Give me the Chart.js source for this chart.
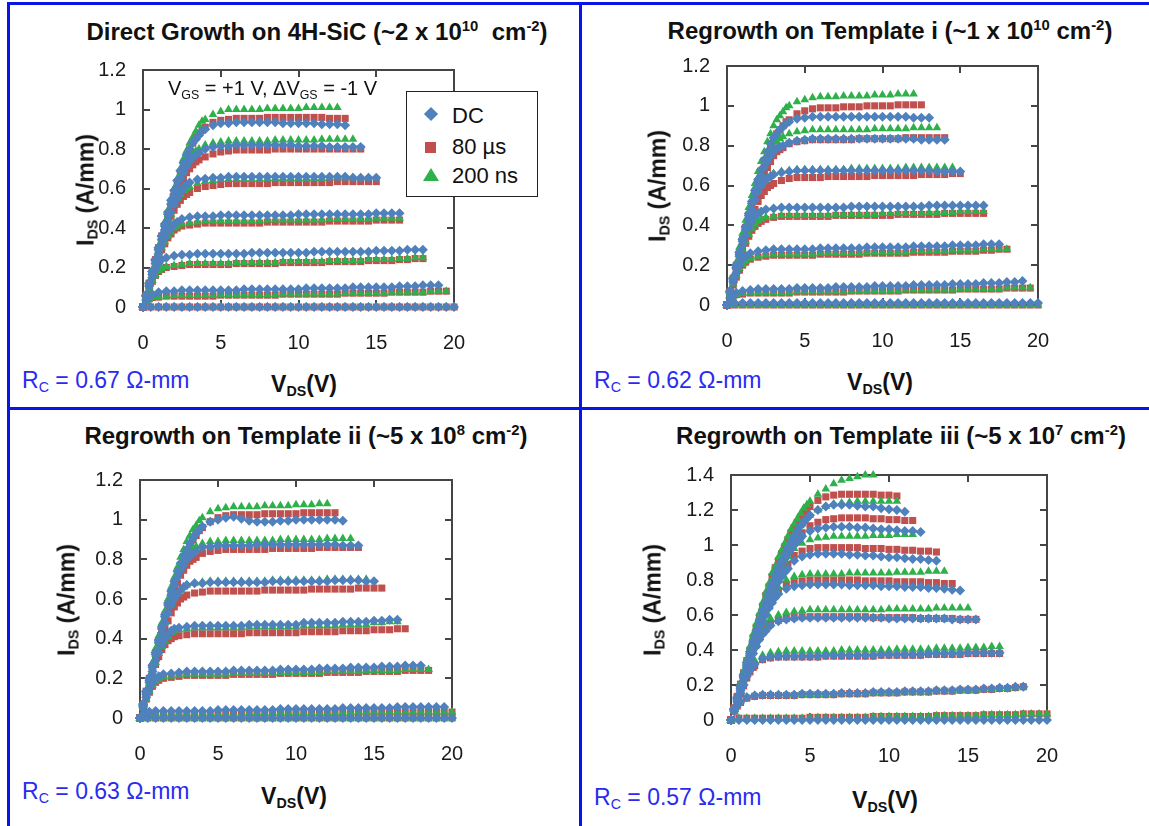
<!DOCTYPE html>
<html lang="en">
<head>
<meta charset="utf-8">
<title>GaN HEMT output characteristics</title>
<script src="https://cdn.jsdelivr.net/npm/chart.js@4.4.1/dist/chart.umd.min.js"></script>
<style>
  html, body { margin: 0; padding: 0; background: #fff; }
  #page { position: relative; width: 1149px; height: 826px; overflow: hidden;
          font-family: 'Liberation Sans', Arial, Helvetica, sans-serif; color: #111; }
  .rule { position: absolute; background: #0a14e6; }
  canvas { position: absolute; }
  .txt { position: absolute; white-space: nowrap; line-height: 1; }
  .title { font-weight: bold; font-size: 24px; transform: translate(-50%, -50%); }
  .xlab { font-weight: bold; font-size: 23px; transform: translate(-50%, -50%); }
  .ylab { font-weight: bold; font-size: 23px; transform: translate(-50%, -50%) rotate(-90deg); }
  .rc { font-size: 23px; color: #2b2bf0; transform: translateY(-50%); }
  .note { font-size: 20px; transform: translateY(-50%); }
  sub { font-size: 0.62em; vertical-align: -0.3em; line-height: 0; }
  sup { font-size: 0.62em; vertical-align: 0.6em; line-height: 0; }
  #legend { position: absolute; left: 406px; top: 91px; width: 132px; height: 106px;
            border: 1px solid #222; background: #fff; box-sizing: border-box; }
  #legend .item { position: absolute; left: 45px; font-size: 22px; line-height: 1; transform: translateY(-50%); }
  #legend .mk { position: absolute; }
  .diamond { width: 10px; height: 10px; background: #4f81bd; transform: rotate(45deg); }
  .square { width: 11px; height: 11px; background: #c0504d; }
  .triangle { width: 0; height: 0; border-left: 8px solid transparent; border-right: 8px solid transparent;
              border-bottom: 13px solid #2eb04a; }
</style>
</head>
<body>
<div id="page">
  <div class="rule" style="left:7px; top:2px; width:1142px; height:3px;"></div>
  <div class="rule" style="left:7px; top:2px; width:3px; height:824px;"></div>
  <div class="rule" style="left:579px; top:2px; width:3px; height:824px;"></div>
  <div class="rule" style="left:7px; top:407px; width:1142px; height:3px;"></div>

  <canvas id="direct"></canvas>
  <canvas id="tplI"></canvas>
  <canvas id="tplII"></canvas>
  <canvas id="tplIII"></canvas>

  <div class="txt title" style="left:317px; top:32px;">Direct Growth on 4H-SiC (~2 x 10<sup>10</sup>&nbsp; cm<sup>-2</sup>)</div>
  <div class="txt title" style="left:890px; top:31px;">Regrowth on Template i (~1 x 10<sup>10</sup> cm<sup>-2</sup>)</div>
  <div class="txt title" style="left:306px; top:436px;">Regrowth on Template ii (~5 x 10<sup>8</sup> cm<sup>-2</sup>)</div>
  <div class="txt title" style="left:901px; top:436px;">Regrowth on Template iii (~5 x 10<sup>7</sup> cm<sup>-2</sup>)</div>

  <div class="txt ylab" style="left:86px; top:190px;">I<sub>DS</sub> (A/mm)</div>
  <div class="txt ylab" style="left:658px; top:186px;">I<sub>DS</sub> (A/mm)</div>
  <div class="txt ylab" style="left:67px; top:600px;">I<sub>DS</sub> (A/mm)</div>
  <div class="txt ylab" style="left:653px; top:600px;">I<sub>DS</sub> (A/mm)</div>

  <div class="txt xlab" style="left:304px; top:384px;">V<sub>DS</sub>(V)</div>
  <div class="txt xlab" style="left:880px; top:382px;">V<sub>DS</sub>(V)</div>
  <div class="txt xlab" style="left:294px; top:796px;">V<sub>DS</sub>(V)</div>
  <div class="txt xlab" style="left:885px; top:800px;">V<sub>DS</sub>(V)</div>

  <div class="txt rc" style="left:22px; top:380px;">R<sub>C</sub> = 0.67 Ω-mm</div>
  <div class="txt rc" style="left:594px; top:380px;">R<sub>C</sub> = 0.62 Ω-mm</div>
  <div class="txt rc" style="left:22px; top:791px;">R<sub>C</sub> = 0.63 Ω-mm</div>
  <div class="txt rc" style="left:594px; top:797px;">R<sub>C</sub> = 0.57 Ω-mm</div>

  <div class="txt note" style="left:168px; top:88px;">V<sub>GS</sub> = +1 V, ΔV<sub>GS</sub> = -1 V</div>

  <div id="legend">
    <span class="mk diamond" style="left:19px; top:17px;"></span><span class="item" style="top:24px;">DC</span>
    <span class="mk square" style="left:18px; top:50px;"></span><span class="item" style="top:55px;">80 µs</span>
    <span class="mk triangle" style="left:16px; top:76px;"></span><span class="item" style="top:84px;">200 ns</span>
  </div>
</div>

<script>
// Drain voltage points (V): fine steps through the linear region, 0.5 V steps beyond
const vdsFine = [0,0.2,0.4,0.6,0.8,1,1.2,1.4,1.6,1.8,2,2.2,2.4,2.6,2.8,3,3.2,3.4,3.6,3.8,4,4.2,4.4,4.6,4.8];
const vds = [0,0.5,1,1.5,2,2.5,3,3.5,4,4.5,5,5.5,6,6.5,7,7.5,8,8.5,9,9.5,10,
             10.5,11,11.5,12,12.5,13,13.5,14,14.5,15,15.5,16,16.5,17,17.5,18,18.5,19,19.5,20];

// Drain current (A/mm), one array per gate step from VGS = +1 V down.
// *Rise holds the linear region on vdsFine, *Flat the rest on vds starting at *FlatStart.

// ---- Direct growth on 4H-SiC ----
const directFlatStart = [4.5, 4, 3.5, 2.5, 1.5, 1, 0];
const directDCRise = [
  [0,0.06,0.12,0.18,0.24,0.3,0.36,0.42,0.48,0.54,0.59,0.64,0.69,0.73,0.77,0.8,0.83,0.85,0.87,0.89,0.9],
  [0,0.06,0.12,0.18,0.24,0.3,0.36,0.41,0.47,0.52,0.57,0.61,0.65,0.68,0.71,0.74,0.755,0.77,0.78],
  [0,0.06,0.12,0.18,0.235,0.29,0.34,0.39,0.44,0.48,0.52,0.55,0.58,0.6,0.62,0.63],
  [0,0.055,0.11,0.165,0.22,0.27,0.31,0.35,0.38,0.4,0.42,0.43],
  [0,0.055,0.105,0.15,0.19,0.22,0.24],
  [0,0.035,0.055,0.065],
  []
];
const directDCFlat = [
  [0.92,0.93,0.93,0.935,0.935,0.935,0.935,0.935,0.935,0.93,0.93,0.93,0.93,0.93,0.925,0.925,0.925,0.92],
  [0.8,0.81,0.815,0.815,0.82,0.82,0.82,0.82,0.82,0.82,0.82,0.82,0.815,0.815,0.815,0.815,0.81,0.81,0.81,0.81,0.81],
  [0.645,0.65,0.655,0.655,0.66,0.66,0.66,0.66,0.66,0.66,0.66,0.66,0.66,0.66,0.66,0.66,0.66,0.66,0.66,0.66,0.655,0.655,0.655,0.655],
  [0.445,0.455,0.46,0.46,0.46,0.465,0.465,0.465,0.465,0.465,0.465,0.465,0.465,0.465,0.465,0.47,0.47,0.47,0.47,0.47,0.47,0.47,0.47,0.47,0.47,0.475,0.475,0.475,0.475],
  [0.25,0.26,0.265,0.265,0.27,0.27,0.27,0.27,0.27,0.27,0.27,0.275,0.275,0.275,0.275,0.275,0.275,0.275,0.275,0.28,0.28,0.28,0.28,0.28,0.28,0.28,0.28,0.285,0.285,0.285,0.285,0.29,0.29,0.29],
  [0.075,0.08,0.08,0.085,0.085,0.085,0.085,0.085,0.085,0.085,0.085,0.09,0.09,0.09,0.09,0.09,0.09,0.09,0.09,0.095,0.095,0.095,0.095,0.095,0.095,0.1,0.1,0.1,0.1,0.1,0.1,0.105,0.105,0.105,0.11,0.11,0.11],
  [0,0,0,0,0,0,0,0,0,0,0,0,0,0,0,0,0,0,0,0,0,0,0,0,0,0,0,0,0,0,0,0,0,0,0,0,0,0,0,0,0]
];
const direct80usRise = [
  [0,0.06,0.12,0.18,0.24,0.3,0.36,0.41,0.47,0.52,0.58,0.63,0.68,0.72,0.76,0.8,0.83,0.86,0.88,0.9,0.91],
  [0,0.06,0.12,0.175,0.23,0.29,0.345,0.4,0.45,0.5,0.55,0.59,0.62,0.65,0.68,0.7,0.72,0.735,0.745],
  [0,0.055,0.11,0.165,0.22,0.28,0.33,0.38,0.42,0.46,0.49,0.52,0.54,0.56,0.57,0.58],
  [0,0.05,0.1,0.15,0.2,0.25,0.29,0.32,0.35,0.37,0.39,0.4],
  [0,0.045,0.09,0.13,0.16,0.18,0.19],
  [0,0.03,0.042,0.048],
  []
];
const direct80usFlat = [
  [0.935,0.945,0.95,0.955,0.955,0.955,0.955,0.96,0.96,0.96,0.96,0.96,0.96,0.96,0.96,0.955,0.955,0.955],
  [0.76,0.775,0.785,0.79,0.795,0.795,0.795,0.795,0.795,0.8,0.8,0.8,0.8,0.8,0.8,0.8,0.8,0.8,0.8,0.8,0.8],
  [0.6,0.61,0.615,0.62,0.625,0.625,0.625,0.625,0.625,0.625,0.63,0.63,0.63,0.63,0.63,0.63,0.63,0.63,0.635,0.635,0.635,0.635,0.635,0.635],
  [0.41,0.415,0.42,0.425,0.425,0.425,0.425,0.425,0.425,0.425,0.425,0.43,0.43,0.43,0.43,0.43,0.43,0.43,0.43,0.435,0.435,0.435,0.435,0.435,0.435,0.44,0.44,0.44,0.44],
  [0.2,0.205,0.21,0.215,0.215,0.215,0.215,0.215,0.215,0.22,0.22,0.22,0.22,0.22,0.22,0.225,0.225,0.225,0.225,0.225,0.225,0.23,0.23,0.23,0.23,0.23,0.235,0.235,0.235,0.235,0.24,0.24,0.245,0.245],
  [0.05,0.055,0.055,0.055,0.055,0.055,0.055,0.055,0.06,0.06,0.06,0.06,0.06,0.06,0.06,0.06,0.065,0.065,0.065,0.065,0.065,0.065,0.065,0.065,0.07,0.07,0.07,0.07,0.07,0.07,0.075,0.075,0.075,0.075,0.075,0.08,0.08,0.08],
  [0,0,0,0,0,0,0,0,0,0,0,0,0,0,0,0,0,0,0,0,0,0,0,0,0,0,0,0,0,0,0,0,0,0,0,0,0,0,0,0,0]
];
const direct200nsRise = [
  [0,0.065,0.13,0.19,0.25,0.31,0.37,0.43,0.49,0.55,0.6,0.65,0.7,0.75,0.79,0.83,0.86,0.89,0.92,0.94,0.95],
  [0,0.06,0.12,0.18,0.24,0.3,0.36,0.42,0.47,0.53,0.58,0.62,0.67,0.7,0.73,0.76,0.78,0.79,0.8],
  [0,0.06,0.12,0.175,0.23,0.29,0.34,0.39,0.43,0.47,0.52,0.55,0.57,0.59,0.6,0.61],
  [0,0.055,0.105,0.155,0.21,0.26,0.3,0.33,0.36,0.38,0.4,0.41],
  [0,0.045,0.09,0.135,0.165,0.185,0.195],
  [0,0.03,0.042,0.048],
  []
];
const direct200nsFlat = [
  [0.975,0.99,1,1,1,1,1,1.005,1.005,1.005,1.005,1.005,1.01,1.01,1.01,1.01,1.01],
  [0.82,0.83,0.835,0.84,0.84,0.84,0.84,0.84,0.84,0.845,0.845,0.845,0.845,0.845,0.845,0.85,0.85,0.85,0.85,0.85],
  [0.625,0.635,0.64,0.645,0.645,0.645,0.645,0.645,0.645,0.65,0.65,0.65,0.65,0.65,0.65,0.65,0.65,0.655,0.655,0.655,0.655,0.655,0.655],
  [0.42,0.425,0.43,0.435,0.435,0.435,0.435,0.435,0.435,0.435,0.435,0.44,0.44,0.44,0.44,0.44,0.44,0.44,0.44,0.445,0.445,0.445,0.445,0.445,0.445,0.45,0.45,0.45,0.45],
  [0.205,0.21,0.215,0.22,0.22,0.22,0.22,0.22,0.22,0.225,0.225,0.225,0.225,0.225,0.225,0.23,0.23,0.23,0.23,0.23,0.23,0.235,0.235,0.235,0.235,0.235,0.24,0.24,0.24,0.24,0.245,0.245,0.25,0.25],
  [0.05,0.055,0.058,0.058,0.058,0.058,0.058,0.058,0.062,0.062,0.062,0.062,0.062,0.062,0.062,0.062,0.066,0.066,0.066,0.066,0.066,0.066,0.066,0.066,0.07,0.07,0.07,0.07,0.07,0.07,0.075,0.075,0.075,0.075,0.075,0.08,0.08,0.08],
  [0,0,0,0,0,0,0,0,0,0,0,0,0,0,0,0,0,0,0,0,0,0,0,0,0,0,0,0,0,0,0,0,0,0,0,0,0,0,0,0,0]
];

// ---- Regrowth on template i ----
const tplIFlatStart = [4.5, 4, 3.5, 2.5, 1.5, 1, 0];
const tplIDCRise = [
  [0,0.07,0.135,0.2,0.265,0.33,0.395,0.46,0.52,0.575,0.63,0.68,0.73,0.77,0.81,0.84,0.86,0.88,0.895,0.91,0.92],
  [0,0.07,0.135,0.2,0.265,0.33,0.39,0.45,0.51,0.56,0.61,0.65,0.69,0.72,0.75,0.77,0.785,0.795,0.8],
  [0,0.065,0.13,0.19,0.255,0.32,0.38,0.43,0.48,0.53,0.57,0.6,0.62,0.635,0.645,0.655],
  [0,0.065,0.125,0.185,0.245,0.3,0.35,0.39,0.42,0.445,0.46,0.47],
  [0,0.06,0.115,0.16,0.2,0.23,0.245],
  [0,0.035,0.052,0.062],
  []
];
const tplIDCFlat = [
  [0.935,0.94,0.945,0.945,0.945,0.945,0.945,0.945,0.945,0.945,0.945,0.945,0.945,0.945,0.945,0.94,0.94,0.94],
  [0.815,0.825,0.83,0.835,0.835,0.835,0.835,0.835,0.835,0.835,0.835,0.835,0.835,0.835,0.835,0.835,0.835,0.83,0.83,0.83,0.83],
  [0.665,0.67,0.675,0.675,0.675,0.675,0.675,0.675,0.675,0.675,0.675,0.675,0.675,0.675,0.675,0.675,0.675,0.675,0.675,0.675,0.67,0.67,0.67,0.67],
  [0.48,0.485,0.49,0.49,0.49,0.49,0.49,0.49,0.49,0.49,0.49,0.495,0.495,0.495,0.495,0.495,0.495,0.495,0.495,0.495,0.495,0.5,0.5,0.5,0.5,0.5,0.5,0.5,0.5],
  [0.26,0.27,0.275,0.28,0.28,0.28,0.28,0.28,0.28,0.285,0.285,0.285,0.285,0.285,0.285,0.29,0.29,0.29,0.29,0.29,0.29,0.295,0.295,0.295,0.295,0.295,0.3,0.3,0.3,0.3,0.305,0.305,0.305],
  [0.07,0.075,0.08,0.08,0.08,0.08,0.08,0.085,0.085,0.085,0.085,0.085,0.09,0.09,0.09,0.09,0.09,0.095,0.095,0.095,0.095,0.095,0.1,0.1,0.1,0.1,0.1,0.105,0.105,0.105,0.105,0.11,0.11,0.11,0.115,0.115,0.12],
  [0,0.01,0.01,0.01,0.01,0.01,0.01,0.01,0.01,0.01,0.01,0.01,0.01,0.01,0.01,0.01,0.01,0.01,0.01,0.01,0.01,0.01,0.01,0.01,0.01,0.01,0.01,0.01,0.01,0.01,0.01,0.01,0.01,0.01,0.01,0.01,0.01,0.01,0.01,0.01,0.01]
];
const tplI80usRise = [
  [0,0.07,0.135,0.2,0.26,0.33,0.39,0.45,0.51,0.565,0.62,0.67,0.72,0.76,0.8,0.83,0.86,0.88,0.9,0.92,0.93],
  [0,0.065,0.13,0.19,0.255,0.32,0.375,0.43,0.48,0.53,0.58,0.62,0.66,0.69,0.72,0.75,0.77,0.78,0.79],
  [0,0.06,0.12,0.18,0.24,0.3,0.35,0.4,0.44,0.48,0.52,0.55,0.57,0.59,0.6,0.61],
  [0,0.06,0.115,0.17,0.22,0.27,0.31,0.345,0.375,0.395,0.41,0.42],
  [0,0.055,0.1,0.14,0.175,0.2,0.215],
  [0,0.03,0.045,0.052],
  []
];
const tplI80usFlat = [
  [0.96,0.975,0.985,0.99,0.99,0.99,0.995,0.995,0.995,1,1,1,1,1.005,1.005,1.005,1.005],
  [0.81,0.82,0.825,0.83,0.83,0.83,0.83,0.83,0.83,0.835,0.835,0.835,0.835,0.835,0.835,0.84,0.84,0.84,0.84,0.84,0.84],
  [0.625,0.635,0.64,0.64,0.64,0.64,0.645,0.645,0.645,0.645,0.645,0.645,0.65,0.65,0.65,0.65,0.65,0.65,0.655,0.655,0.655,0.655,0.66,0.66],
  [0.43,0.44,0.445,0.445,0.445,0.445,0.445,0.445,0.445,0.45,0.45,0.45,0.45,0.45,0.45,0.45,0.45,0.455,0.455,0.455,0.455,0.455,0.455,0.46,0.46,0.46,0.46,0.46,0.46],
  [0.23,0.24,0.245,0.25,0.25,0.25,0.25,0.25,0.25,0.255,0.255,0.255,0.255,0.255,0.255,0.26,0.26,0.26,0.26,0.26,0.26,0.265,0.265,0.265,0.265,0.265,0.27,0.27,0.27,0.27,0.275,0.275,0.28,0.28],
  [0.055,0.06,0.06,0.06,0.06,0.06,0.06,0.065,0.065,0.065,0.065,0.065,0.065,0.065,0.07,0.07,0.07,0.07,0.07,0.07,0.07,0.075,0.075,0.075,0.075,0.075,0.075,0.075,0.08,0.08,0.08,0.08,0.08,0.08,0.085,0.085,0.085,0.085],
  [0,0,0,0,0,0,0,0,0,0,0,0,0,0,0,0,0,0,0,0,0,0,0,0,0,0,0,0,0,0,0,0,0,0,0,0,0,0,0,0,0]
];
const tplI200nsRise = [
  [0,0.075,0.145,0.215,0.29,0.36,0.425,0.49,0.55,0.61,0.67,0.72,0.77,0.82,0.86,0.9,0.93,0.95,0.97,0.99,1],
  [0,0.07,0.14,0.205,0.27,0.34,0.4,0.47,0.53,0.59,0.64,0.68,0.72,0.755,0.78,0.8,0.82,0.835,0.845],
  [0,0.065,0.13,0.19,0.255,0.32,0.38,0.43,0.48,0.53,0.57,0.6,0.625,0.64,0.65,0.66],
  [0,0.06,0.12,0.175,0.23,0.28,0.32,0.355,0.385,0.405,0.42,0.43],
  [0,0.055,0.105,0.15,0.185,0.205,0.22],
  [0,0.03,0.045,0.052],
  []
];
const tplI200nsFlat = [
  [1.02,1.03,1.04,1.045,1.045,1.045,1.05,1.05,1.05,1.05,1.055,1.055,1.055,1.06,1.06,1.06],
  [0.86,0.87,0.875,0.88,0.88,0.88,0.88,0.88,0.88,0.88,0.88,0.885,0.885,0.885,0.885,0.885,0.89,0.89,0.89,0.89],
  [0.67,0.675,0.68,0.68,0.68,0.68,0.68,0.68,0.68,0.685,0.685,0.685,0.685,0.685,0.685,0.685,0.69,0.69,0.69,0.69,0.69,0.69,0.69],
  [0.44,0.445,0.45,0.45,0.45,0.45,0.45,0.45,0.45,0.455,0.455,0.455,0.455,0.455,0.455,0.46,0.46,0.46,0.46,0.46,0.46,0.465,0.465,0.465,0.465,0.47,0.47,0.47,0.47],
  [0.235,0.245,0.25,0.255,0.255,0.255,0.255,0.255,0.255,0.26,0.26,0.26,0.26,0.26,0.26,0.265,0.265,0.265,0.265,0.265,0.265,0.27,0.27,0.27,0.27,0.27,0.275,0.275,0.275,0.275,0.28,0.28,0.28,0.28],
  [0.058,0.062,0.062,0.062,0.062,0.062,0.062,0.066,0.066,0.066,0.066,0.066,0.066,0.066,0.07,0.07,0.07,0.07,0.07,0.07,0.07,0.075,0.075,0.075,0.075,0.075,0.075,0.075,0.08,0.08,0.08,0.08,0.08,0.08,0.087,0.087,0.087,0.087],
  [0,0,0,0,0,0,0,0,0,0,0,0,0,0,0,0,0,0,0,0,0,0,0,0,0,0,0,0,0,0,0,0,0,0,0,0,0,0,0,0,0]
];

// ---- Regrowth on template ii ----
const tplIIFlatStart = [4.5, 4, 3.5, 2.5, 1.5, 1, 0];
const tplIIDCRise = [
  [0,0.07,0.135,0.2,0.265,0.33,0.395,0.46,0.52,0.58,0.64,0.69,0.74,0.78,0.82,0.85,0.88,0.905,0.93,0.95,0.965],
  [0,0.07,0.135,0.2,0.265,0.33,0.39,0.45,0.51,0.57,0.62,0.67,0.71,0.745,0.77,0.8,0.815,0.83,0.84],
  [0,0.065,0.13,0.19,0.255,0.32,0.38,0.43,0.48,0.53,0.57,0.6,0.625,0.645,0.66,0.67],
  [0,0.06,0.12,0.18,0.235,0.29,0.33,0.37,0.4,0.42,0.44,0.45],
  [0,0.055,0.105,0.145,0.175,0.2,0.21],
  [0,0.02,0.028,0.032],
  []
];
const tplIIDCFlat = [
  [0.99,1,1.01,1.015,1.005,0.995,0.99,0.99,0.99,0.995,0.995,1,1,1,1,1,1,0.995],
  [0.86,0.865,0.87,0.87,0.87,0.87,0.87,0.875,0.875,0.875,0.875,0.875,0.875,0.875,0.875,0.875,0.875,0.875,0.87,0.87,0.87],
  [0.68,0.68,0.685,0.685,0.685,0.685,0.685,0.685,0.685,0.685,0.69,0.69,0.69,0.69,0.69,0.69,0.69,0.69,0.695,0.695,0.695,0.695,0.69,0.69],
  [0.455,0.46,0.465,0.465,0.465,0.465,0.465,0.465,0.465,0.47,0.47,0.47,0.47,0.47,0.47,0.47,0.48,0.48,0.48,0.48,0.48,0.485,0.485,0.485,0.485,0.49,0.49,0.495,0.495],
  [0.22,0.225,0.23,0.235,0.235,0.235,0.235,0.235,0.235,0.24,0.24,0.24,0.24,0.24,0.24,0.245,0.245,0.245,0.245,0.245,0.25,0.25,0.25,0.25,0.255,0.255,0.255,0.255,0.26,0.26,0.26,0.265,0.265,0.265],
  [0.035,0.035,0.035,0.035,0.035,0.035,0.035,0.035,0.04,0.04,0.04,0.04,0.04,0.04,0.04,0.04,0.045,0.045,0.045,0.045,0.045,0.045,0.045,0.045,0.05,0.05,0.05,0.05,0.05,0.05,0.05,0.055,0.055,0.055,0.055,0.055,0.055,0.055],
  [0,0,0,0,0,0,0,0,0,0,0,0,0,0,0,0,0,0,0,0,0,0,0,0,0,0,0,0,0,0,0,0,0,0,0,0,0,0,0,0,0]
];
const tplII80usRise = [
  [0,0.07,0.135,0.2,0.26,0.33,0.39,0.45,0.51,0.565,0.62,0.67,0.72,0.77,0.81,0.84,0.87,0.9,0.92,0.945,0.96],
  [0,0.065,0.13,0.19,0.255,0.32,0.375,0.43,0.49,0.54,0.59,0.64,0.68,0.72,0.745,0.77,0.79,0.8,0.81],
  [0,0.06,0.12,0.18,0.24,0.3,0.355,0.4,0.45,0.49,0.53,0.56,0.58,0.6,0.61,0.62],
  [0,0.055,0.11,0.165,0.215,0.27,0.31,0.345,0.37,0.39,0.4,0.41],
  [0,0.05,0.095,0.13,0.16,0.18,0.19],
  [0,0.01,0.014,0.016],
  []
];
const tplII80usFlat = [
  [0.99,1.01,1.02,1.025,1.025,1.025,1.025,1.03,1.03,1.03,1.03,1.03,1.035,1.035,1.035,1.035,1.035],
  [0.83,0.84,0.845,0.85,0.85,0.85,0.85,0.85,0.85,0.855,0.855,0.855,0.855,0.855,0.855,0.86,0.86,0.86,0.86,0.86,0.86],
  [0.63,0.635,0.64,0.64,0.64,0.64,0.64,0.64,0.64,0.645,0.645,0.645,0.645,0.645,0.645,0.65,0.65,0.65,0.65,0.65,0.65,0.655,0.655,0.655,0.655],
  [0.415,0.42,0.425,0.425,0.425,0.425,0.425,0.425,0.425,0.43,0.43,0.43,0.43,0.43,0.43,0.43,0.435,0.435,0.435,0.435,0.435,0.44,0.44,0.44,0.44,0.445,0.445,0.445,0.45,0.45],
  [0.2,0.205,0.21,0.215,0.215,0.215,0.215,0.215,0.215,0.22,0.22,0.22,0.22,0.22,0.22,0.225,0.225,0.225,0.225,0.225,0.225,0.23,0.23,0.23,0.23,0.23,0.235,0.235,0.235,0.235,0.235,0.24,0.24,0.24,0.24],
  [0.02,0.02,0.02,0.02,0.02,0.02,0.02,0.02,0.02,0.02,0.02,0.02,0.025,0.025,0.025,0.025,0.025,0.025,0.025,0.025,0.025,0.025,0.025,0.025,0.025,0.025,0.03,0.03,0.03,0.03,0.03,0.03,0.03,0.03,0.03,0.03,0.03,0.03,0.03],
  [0,0,0,0,0,0,0,0,0,0,0,0,0,0,0,0,0,0,0,0,0,0,0,0,0,0,0,0,0,0,0,0,0,0,0,0,0,0,0,0,0]
];
const tplII200nsRise = [
  [0,0.075,0.14,0.21,0.28,0.35,0.415,0.48,0.54,0.6,0.66,0.71,0.76,0.81,0.85,0.89,0.92,0.95,0.97,0.995,1.01],
  [0,0.07,0.14,0.205,0.27,0.34,0.4,0.47,0.53,0.59,0.64,0.69,0.73,0.77,0.8,0.82,0.84,0.855,0.865],
  [0,0.065,0.13,0.19,0.255,0.32,0.38,0.43,0.48,0.53,0.57,0.6,0.625,0.645,0.66,0.67],
  [0,0.06,0.12,0.175,0.23,0.28,0.325,0.36,0.39,0.41,0.43,0.44],
  [0,0.05,0.095,0.135,0.165,0.185,0.195],
  [0,0.01,0.014,0.016],
  []
];
const tplII200nsFlat = [
  [1.04,1.055,1.06,1.065,1.065,1.065,1.065,1.07,1.07,1.07,1.07,1.075,1.075,1.075,1.08,1.08],
  [0.88,0.89,0.89,0.895,0.895,0.895,0.895,0.895,0.895,0.895,0.9,0.9,0.9,0.9,0.9,0.9,0.905,0.905,0.905,0.905],
  [0.68,0.685,0.69,0.69,0.69,0.69,0.69,0.69,0.69,0.69,0.695,0.695,0.695,0.695,0.695,0.695,0.695,0.7,0.7,0.7,0.7,0.7,0.7],
  [0.445,0.45,0.455,0.455,0.455,0.455,0.455,0.455,0.455,0.46,0.46,0.46,0.46,0.46,0.46,0.46,0.465,0.465,0.465,0.465,0.465,0.47,0.47,0.47,0.47,0.48,0.48,0.485,0.485],
  [0.205,0.21,0.215,0.22,0.22,0.22,0.22,0.22,0.22,0.225,0.225,0.225,0.225,0.225,0.225,0.23,0.23,0.23,0.23,0.23,0.23,0.235,0.235,0.235,0.235,0.235,0.24,0.24,0.24,0.24,0.24,0.245,0.245,0.245,0.245],
  [0.02,0.02,0.02,0.02,0.02,0.02,0.02,0.02,0.02,0.02,0.02,0.02,0.025,0.025,0.025,0.025,0.025,0.025,0.025,0.025,0.025,0.025,0.025,0.025,0.025,0.025,0.03,0.03,0.03,0.03,0.03,0.03,0.03,0.03,0.03,0.03,0.03,0.03,0.03],
  [0,0,0,0,0,0,0,0,0,0,0,0,0,0,0,0,0,0,0,0,0,0,0,0,0,0,0,0,0,0,0,0,0,0,0,0,0,0,0,0,0]
];

// ---- Regrowth on template iii (one extra gate step) ----
const tplIIIFlatStart = [5, 4.5, 4, 3.5, 2.5, 1.5, 1, 0];
const tplIIIDCRise = [
  [0,0.065,0.13,0.195,0.26,0.33,0.39,0.45,0.51,0.57,0.63,0.68,0.73,0.78,0.83,0.87,0.91,0.95,0.985,1.02,1.05,1.08,1.11,1.13,1.15],
  [0,0.065,0.13,0.19,0.255,0.32,0.38,0.44,0.49,0.55,0.61,0.66,0.71,0.76,0.8,0.85,0.89,0.92,0.95,0.975,1,1.02,1.04],
  [0,0.065,0.125,0.19,0.25,0.31,0.37,0.43,0.48,0.54,0.59,0.635,0.68,0.72,0.76,0.79,0.82,0.845,0.865],
  [0,0.06,0.12,0.18,0.24,0.3,0.355,0.41,0.46,0.51,0.56,0.6,0.64,0.67,0.7,0.72],
  [0,0.06,0.115,0.17,0.225,0.28,0.33,0.38,0.42,0.46,0.49,0.51],
  [0,0.055,0.105,0.155,0.2,0.25,0.285,0.31],
  [0,0.05,0.085,0.105],
  []
];
const tplIIIDCFlat = [
  [1.17,1.2,1.22,1.23,1.23,1.23,1.225,1.22,1.22,1.21,1.205,1.2,1.19],
  [1.05,1.08,1.095,1.1,1.105,1.105,1.105,1.1,1.1,1.095,1.09,1.09,1.085,1.08,1.08,1.075],
  [0.91,0.935,0.945,0.95,0.95,0.95,0.95,0.945,0.945,0.94,0.94,0.935,0.93,0.93,0.925,0.92,0.92,0.915,0.91],
  [0.75,0.765,0.77,0.775,0.775,0.775,0.775,0.775,0.77,0.77,0.77,0.77,0.765,0.765,0.765,0.76,0.76,0.76,0.755,0.755,0.75,0.745,0.74],
  [0.54,0.565,0.575,0.58,0.585,0.585,0.585,0.585,0.585,0.585,0.585,0.585,0.585,0.585,0.585,0.58,0.58,0.58,0.58,0.58,0.58,0.58,0.58,0.575,0.575,0.575,0.575],
  [0.32,0.35,0.36,0.365,0.365,0.365,0.365,0.365,0.365,0.37,0.37,0.37,0.37,0.37,0.37,0.37,0.375,0.375,0.375,0.375,0.375,0.375,0.38,0.38,0.38,0.38,0.38,0.385,0.385,0.385,0.385,0.385],
  [0.13,0.14,0.145,0.145,0.145,0.145,0.145,0.15,0.15,0.15,0.15,0.15,0.155,0.155,0.155,0.155,0.16,0.16,0.16,0.16,0.165,0.165,0.165,0.165,0.17,0.17,0.17,0.175,0.175,0.175,0.18,0.18,0.185,0.185,0.19,0.19],
  [0,0,0,0,0,0,0,0,0,0,0,0,0,0,0,0,0,0,0,0,0,0,0,0,0,0,0,0,0,0,0,0,0,0,0,0,0,0,0,0,0]
];
const tplIII80usRise = [
  [0,0.07,0.135,0.205,0.27,0.34,0.4,0.47,0.53,0.59,0.65,0.71,0.76,0.82,0.87,0.91,0.95,0.99,1.03,1.07,1.1,1.13,1.16,1.18,1.2],
  [0,0.065,0.13,0.195,0.26,0.33,0.39,0.45,0.51,0.57,0.62,0.67,0.73,0.77,0.82,0.86,0.9,0.935,0.97,0.995,1.02,1.04,1.06],
  [0,0.065,0.13,0.19,0.255,0.32,0.38,0.44,0.49,0.55,0.6,0.65,0.7,0.74,0.78,0.82,0.85,0.87,0.89],
  [0,0.065,0.125,0.19,0.25,0.31,0.37,0.42,0.48,0.53,0.57,0.61,0.65,0.68,0.71,0.74],
  [0,0.06,0.12,0.175,0.235,0.29,0.34,0.39,0.43,0.47,0.5,0.52],
  [0,0.055,0.1,0.15,0.195,0.24,0.275,0.3],
  [0,0.05,0.08,0.1],
  []
];
const tplIII80usFlat = [
  [1.22,1.255,1.275,1.285,1.29,1.29,1.29,1.29,1.29,1.285,1.285,1.28],
  [1.07,1.11,1.13,1.145,1.15,1.155,1.155,1.155,1.155,1.15,1.15,1.145,1.145,1.14,1.14],
  [0.94,0.965,0.98,0.985,0.985,0.985,0.985,0.985,0.985,0.98,0.98,0.98,0.975,0.975,0.97,0.97,0.965,0.965,0.96],
  [0.77,0.785,0.795,0.8,0.8,0.8,0.8,0.8,0.8,0.8,0.795,0.795,0.795,0.795,0.79,0.79,0.79,0.79,0.785,0.785,0.78,0.78],
  [0.55,0.57,0.58,0.585,0.59,0.59,0.59,0.59,0.59,0.59,0.59,0.59,0.59,0.585,0.585,0.585,0.585,0.585,0.585,0.58,0.58,0.58,0.58,0.58,0.575,0.575,0.575],
  [0.31,0.345,0.355,0.36,0.36,0.36,0.36,0.36,0.36,0.365,0.365,0.365,0.365,0.365,0.365,0.365,0.37,0.37,0.37,0.37,0.37,0.37,0.375,0.375,0.375,0.375,0.375,0.38,0.38,0.38,0.38,0.38],
  [0.125,0.135,0.14,0.14,0.14,0.14,0.14,0.145,0.145,0.145,0.145,0.145,0.15,0.15,0.15,0.15,0.155,0.155,0.155,0.155,0.16,0.16,0.16,0.16,0.165,0.165,0.165,0.17,0.17,0.17,0.175,0.175,0.18,0.18,0.185,0.19],
  [0,0.01,0.01,0.01,0.01,0.01,0.01,0.01,0.01,0.01,0.015,0.015,0.015,0.015,0.015,0.015,0.015,0.015,0.02,0.02,0.02,0.02,0.02,0.02,0.02,0.02,0.025,0.025,0.025,0.025,0.025,0.025,0.03,0.03,0.03,0.03,0.03,0.035,0.035,0.035,0.035]
];
const tplIII200nsRise = [
  [0,0.07,0.14,0.21,0.28,0.35,0.42,0.49,0.55,0.61,0.67,0.73,0.78,0.84,0.88,0.93,0.97,1.01,1.05,1.09,1.12,1.15,1.18,1.21,1.23],
  [0,0.07,0.135,0.205,0.27,0.34,0.405,0.47,0.53,0.59,0.65,0.7,0.76,0.8,0.85,0.89,0.93,0.965,1,1.04,1.06,1.09,1.11],
  [0,0.065,0.13,0.2,0.265,0.33,0.39,0.45,0.51,0.57,0.62,0.67,0.72,0.77,0.81,0.85,0.88,0.91,0.935],
  [0,0.065,0.13,0.19,0.255,0.32,0.375,0.43,0.485,0.535,0.58,0.62,0.66,0.7,0.73,0.76],
  [0,0.06,0.12,0.175,0.235,0.29,0.345,0.395,0.44,0.48,0.52,0.55],
  [0,0.055,0.11,0.165,0.215,0.26,0.3,0.33],
  [0,0.05,0.085,0.105],
  []
];
const tplIII200nsFlat = [
  [1.25,1.29,1.32,1.35,1.37,1.38,1.39,1.4,1.4],
  [1.12,1.17,1.2,1.22,1.235,1.24,1.245,1.25,1.25,1.25,1.25,1.25,1.25],
  [0.98,1.01,1.03,1.04,1.045,1.05,1.05,1.05,1.05,1.05,1.055,1.055,1.055,1.06,1.06,1.06],
  [0.8,0.82,0.83,0.835,0.835,0.835,0.835,0.835,0.84,0.84,0.84,0.84,0.84,0.84,0.845,0.845,0.845,0.845,0.85,0.85,0.85],
  [0.58,0.6,0.615,0.62,0.625,0.63,0.63,0.63,0.63,0.63,0.63,0.63,0.63,0.63,0.63,0.635,0.635,0.635,0.635,0.635,0.635,0.64,0.64,0.64,0.64,0.64],
  [0.34,0.37,0.385,0.39,0.395,0.395,0.395,0.395,0.395,0.395,0.395,0.4,0.4,0.4,0.4,0.4,0.4,0.4,0.405,0.405,0.405,0.405,0.405,0.41,0.41,0.41,0.41,0.415,0.415,0.415,0.42,0.42],
  [0.13,0.14,0.14,0.14,0.14,0.14,0.145,0.145,0.145,0.145,0.145,0.15,0.15,0.15,0.15,0.15,0.155,0.155,0.155,0.155,0.16,0.16,0.16,0.16,0.165,0.165,0.165,0.17,0.17,0.17,0.175,0.175,0.18,0.18,0.185,0.19],
  [0,0.01,0.01,0.01,0.01,0.01,0.01,0.01,0.01,0.01,0.015,0.015,0.015,0.015,0.015,0.015,0.015,0.015,0.02,0.02,0.02,0.02,0.02,0.02,0.02,0.02,0.025,0.025,0.025,0.025,0.025,0.025,0.03,0.03,0.03,0.03,0.03,0.035,0.035,0.035,0.035]
];

// Marker style per measurement mode; DC drawn on top, then 200 ns, then 80 µs
const modes = [
  { label: 'DC',     color: '#4f81bd', pointStyle: 'rectRot',  order: 0 },
  { label: '80 µs',  color: '#c0504d', pointStyle: 'rect',     order: 2 },
  { label: '200 ns', color: '#2eb04a', pointStyle: 'triangle', order: 1 },
];

// Plot-area box on the page (left, top, right, bottom) for each panel
const panels = [
  { id: 'direct', box: [143, 70, 454, 307],  yMax: 1.2, flatStart: directFlatStart,
    rise: [directDCRise, direct80usRise, direct200nsRise], flat: [directDCFlat, direct80usFlat, direct200nsFlat] },
  { id: 'tplI',   box: [727, 66, 1038, 305], yMax: 1.2, flatStart: tplIFlatStart,
    rise: [tplIDCRise, tplI80usRise, tplI200nsRise], flat: [tplIDCFlat, tplI80usFlat, tplI200nsFlat] },
  { id: 'tplII',  box: [140, 480, 452, 718], yMax: 1.2, flatStart: tplIIFlatStart,
    rise: [tplIIDCRise, tplII80usRise, tplII200nsRise], flat: [tplIIDCFlat, tplII80usFlat, tplII200nsFlat] },
  { id: 'tplIII', box: [731, 475, 1047, 720], yMax: 1.4, flatStart: tplIIIFlatStart,
    rise: [tplIIIDCRise, tplIII80usRise, tplIII200nsRise], flat: [tplIIIDCFlat, tplIII80usFlat, tplIII200nsFlat] },
];

const AXIS_W = 70, AXIS_H = 50, PAD_T = 12, PAD_R = 16;

// Closed frame with inward tick marks on all four sides
const frameTicks = {
  id: 'frameTicks',
  beforeDatasetsDraw(chart) {
    const { ctx, chartArea: a, scales: { x, y } } = chart;
    const len = 7;
    ctx.save();
    ctx.strokeStyle = '#454545';
    ctx.lineWidth = 2;
    ctx.strokeRect(a.left, a.top, a.right - a.left, a.bottom - a.top);
    ctx.beginPath();
    x.ticks.forEach(t => {
      const px = Math.round(x.getPixelForValue(t.value));
      ctx.moveTo(px, a.bottom); ctx.lineTo(px, a.bottom - len);
      ctx.moveTo(px, a.top); ctx.lineTo(px, a.top + len);
    });
    y.ticks.forEach(t => {
      const py = Math.round(y.getPixelForValue(t.value));
      ctx.moveTo(a.left, py); ctx.lineTo(a.left + len, py);
      ctx.moveTo(a.right, py); ctx.lineTo(a.right - len, py);
    });
    ctx.stroke();
    ctx.restore();
  }
};

Chart.defaults.font.family = "'Liberation Sans', Arial, sans-serif";

panels.forEach(p => {
  const [l, t, r, b] = p.box;
  const canvas = document.getElementById(p.id);
  canvas.width = (r - l) + AXIS_W + PAD_R;
  canvas.height = (b - t) + AXIS_H + PAD_T;
  canvas.style.left = (l - AXIS_W) + 'px';
  canvas.style.top = (t - PAD_T) + 'px';

  const datasets = [];
  modes.forEach((mode, m) => {
    p.rise[m].forEach((rise, g) => {
      const start = vds.indexOf(p.flatStart[g]);
      const points = rise.map((y, i) => ({ x: vdsFine[i], y }))
        .concat(p.flat[m][g].map((y, i) => ({ x: vds[start + i], y })));
      datasets.push({
        label: mode.label + ' step ' + g,
        data: points,
        showLine: false,
        pointStyle: mode.pointStyle,
        pointRadius: 5,
        pointBorderWidth: 0,
        backgroundColor: mode.color,
        borderColor: mode.color,
        order: mode.order,
        clip: false,
      });
    });
  });

  new Chart(canvas, {
    type: 'scatter',
    data: { datasets },
    options: {
      responsive: false,
      animation: false,
      events: [],
      layout: { padding: { top: PAD_T, right: PAD_R, left: 0, bottom: 0 } },
      plugins: { legend: { display: false }, tooltip: { enabled: false } },
      scales: {
        x: {
          type: 'linear', min: 0, max: 20,
          grid: { display: false, drawTicks: false },
          border: { display: false },
          ticks: { stepSize: 5, padding: 24, color: '#1a1a1a', font: { size: 20 } },
          afterFit: s => { s.height = AXIS_H; s.paddingLeft = 0; s.paddingRight = 0; },
        },
        y: {
          type: 'linear', min: 0, max: p.yMax,
          grid: { display: false, drawTicks: false },
          border: { display: false },
          ticks: {
            stepSize: 0.2, padding: 17, color: '#1a1a1a', font: { size: 20 },
            callback: v => String(Math.round(v * 10) / 10),
          },
          afterFit: s => { s.width = AXIS_W; s.paddingTop = 0; s.paddingBottom = 0; },
        },
      },
    },
    plugins: [frameTicks],
  });
});
</script>
</body>
</html>
